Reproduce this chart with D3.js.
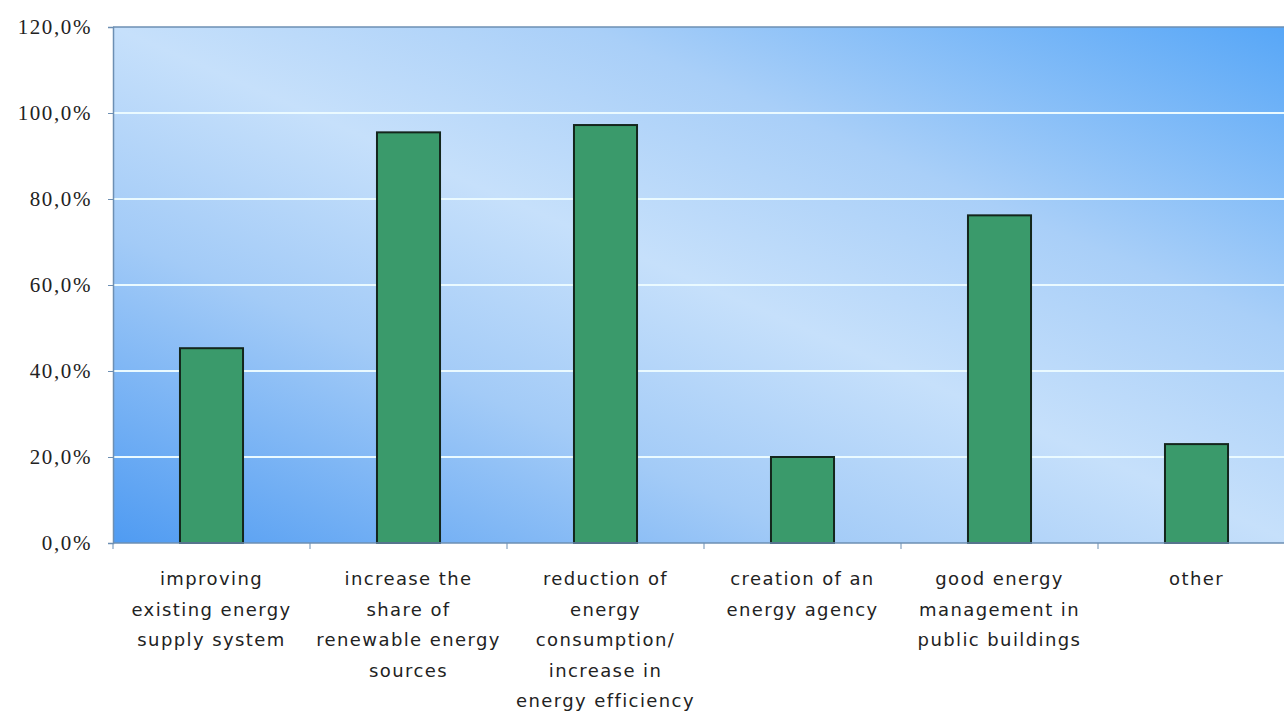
<!DOCTYPE html>
<html>
<head>
<meta charset="utf-8">
<script src="https://cdn.jsdelivr.net/npm/d3@7"></script>
<style>
  html, body { margin: 0; padding: 0; background: #ffffff; }
  svg { display: block; }
</style>
</head>
<body>
<svg id="chart" width="1284" height="715"></svg>
<script>
// Measures named by respondents (share of answers)
const categories = [
  ["improving", "existing energy", "supply system"],
  ["increase the", "share of", "renewable energy", "sources"],
  ["reduction of", "energy", "consumption/", "increase in", "energy efficiency"],
  ["creation of an", "energy agency"],
  ["good energy", "management in", "public buildings"],
  ["other"]
];
const values = [45.3, 95.5, 97.2, 20.0, 76.2, 23.0];
const yTicks = [0, 20, 40, 60, 80, 100, 120];
const tickLabels = ["0,0%", "20,0%", "40,0%", "60,0%", "80,0%", "100,0%", "120,0%"];

const svg = d3.select("#chart");
const plot = { left: 113, top: 27, bottom: 543, right: 1295 };

const keys = categories.map((c, i) => "c" + i);
const x = d3.scaleBand().domain(keys).range([plot.left, plot.right]).padding(0);
const y = d3.scaleLinear().domain([0, 120]).range([plot.bottom, plot.top]);

// Diagonal background gradient: darker corners, light band across the middle
const defs = svg.append("defs");
const grad = defs.append("linearGradient")
  .attr("id", "bg")
  .attr("x1", 0).attr("y1", 1).attr("x2", 1).attr("y2", 0);
[["0", "#4f9bf2"], ["0.3", "#a3cbf7"], ["0.5", "#c6e0fb"], ["0.7", "#a9cff8"], ["1", "#56a6f7"]]
  .forEach(([o, c]) => grad.append("stop").attr("offset", o).attr("stop-color", c));

svg.append("rect")
  .attr("x", plot.left).attr("y", plot.top)
  .attr("width", plot.right - plot.left).attr("height", plot.bottom - plot.top)
  .attr("fill", "url(#bg)");

// Gridlines
svg.append("g")
  .selectAll("line")
  .data(yTicks.filter(d => d > 0 && d < 120))
  .join("line")
  .attr("x1", plot.left).attr("x2", plot.right)
  .attr("y1", d => y(d)).attr("y2", d => y(d))
  .attr("stroke", "#eafaff").attr("stroke-width", 2);

// Top border of the plot area
svg.append("line")
  .attr("x1", plot.left).attr("x2", plot.right)
  .attr("y1", plot.top).attr("y2", plot.top)
  .attr("stroke", "#6d8fb3").attr("stroke-width", 1.5);

// Bars
const barW = x.bandwidth() * 0.32;
svg.append("g")
  .selectAll("rect")
  .data(values)
  .join("rect")
  .attr("x", (d, i) => x(keys[i]) + (x.bandwidth() - barW) / 2)
  .attr("y", d => y(d))
  .attr("width", barW)
  .attr("height", d => y(0) - y(d))
  .attr("fill", "#3a9a6b")
  .attr("stroke", "#14261c")
  .attr("stroke-width", 2);

// Y axis
const yAxis = d3.axisLeft(y)
  .tickValues(yTicks)
  .tickFormat((d, i) => tickLabels[i])
  .tickSize(5)
  .tickPadding(16);
const gy = svg.append("g").attr("transform", `translate(${plot.left},0)`).call(yAxis);
gy.select(".domain").attr("stroke", "#6d8fb3").attr("stroke-width", 1.5);
gy.selectAll(".tick line").attr("stroke", "#6d8fb3");
gy.selectAll(".tick text")
  .attr("font-family", "'Liberation Serif', serif")
  .attr("font-size", 21)
  .attr("letter-spacing", 1.6)
  .attr("fill", "#222");

// X axis baseline and boundary ticks
svg.append("line")
  .attr("x1", plot.left).attr("x2", plot.right)
  .attr("y1", plot.bottom).attr("y2", plot.bottom)
  .attr("stroke", "#6d8fb3").attr("stroke-width", 1.5);
svg.append("g")
  .selectAll("line")
  .data(keys)
  .join("line")
  .attr("x1", d => x(d)).attr("x2", d => x(d))
  .attr("y1", plot.bottom).attr("y2", plot.bottom + 6)
  .attr("stroke", "#6d8fb3");

// Category labels (multi-line)
const lab = svg.append("g")
  .selectAll("text")
  .data(categories)
  .join("text")
  .attr("x", (d, i) => x(keys[i]) + x.bandwidth() / 2)
  .attr("y", 585)
  .attr("text-anchor", "middle")
  .attr("font-family", "'DejaVu Sans', sans-serif")
  .attr("font-size", 18)
  .attr("letter-spacing", 1.4)
  .attr("fill", "#222");
lab.selectAll("tspan")
  .data(d => d)
  .join("tspan")
  .attr("x", function() { return this.parentNode.getAttribute("x"); })
  .attr("dy", (d, i) => i === 0 ? 0 : 30.5)
  .text(d => d);
</script>
</body>
</html>
